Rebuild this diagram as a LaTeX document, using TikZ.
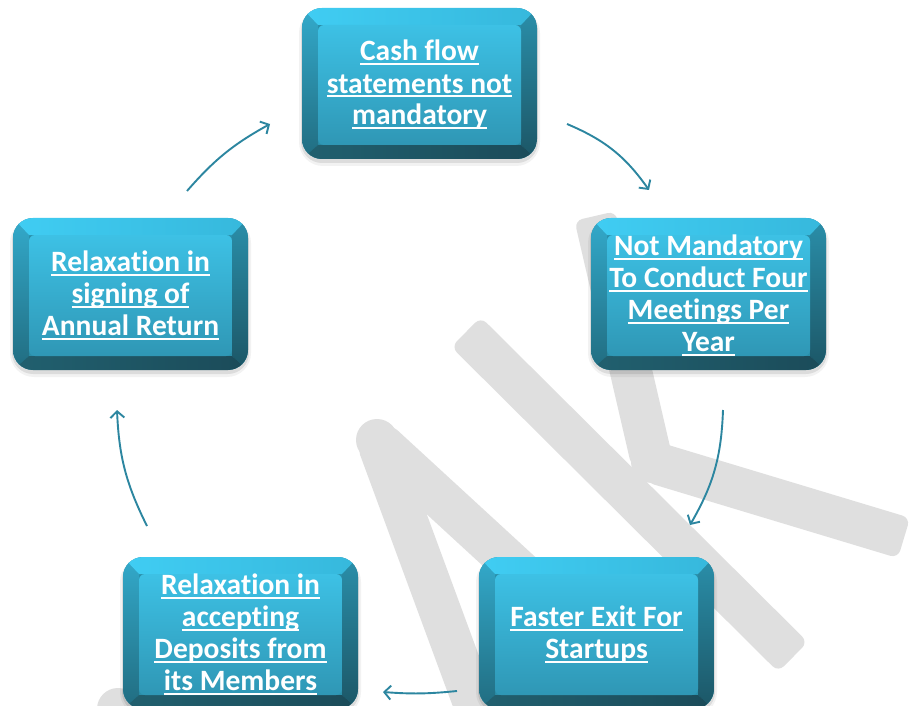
\documentclass[tikz,border=0pt]{standalone}
\usepackage{fontspec}
\setmainfont{Carlito}[Ligatures=NoCommon]
\usetikzlibrary{arrows.meta}
\definecolor{wm}{HTML}{DFDFDF}
\definecolor{arr}{HTML}{2C86A0}
\definecolor{bevtopL}{HTML}{40CDF3}
\definecolor{bevtopR}{HTML}{36B8DC}
\definecolor{bevleftT}{HTML}{33AACB}
\definecolor{bevleftB}{HTML}{216C80}
\definecolor{bevrightT}{HTML}{2A8FAA}
\definecolor{bevrightB}{HTML}{1C5666}
\definecolor{bevbotL}{HTML}{21606F}
\definecolor{bevbotR}{HTML}{1B4B59}
\definecolor{faceT}{HTML}{3DC1E5}
\definecolor{faceB}{HTML}{2F97B5}
\newcommand\ulline[1]{\setbox0=\hbox{#1}\rlap{\rule[-4.5pt]{\wd0}{2pt}}\box0\vrule height 23pt depth 7pt width 0pt}
\newcommand\bevbox[4]{%
  \pgfmathsetmacro\ax{#1+16}\pgfmathsetmacro\ay{#2+17}%
  \pgfmathsetmacro\bx{#3-16}\pgfmathsetmacro\by{#4-14}%
  \fill[black,opacity=.05,rounded corners=24] (#1-3,#2+1) rectangle (#3+3,#4+7);
  \fill[black,opacity=.09,rounded corners=21] (#1-1,#2+2) rectangle (#3+1,#4+4);
  \begin{scope}
    \clip[rounded corners=20] (#1,#2) rectangle (#3,#4);
    \fill[bevrightT] (#1,#2) rectangle (#3,#4);
    \shade[top color=bevleftT,bottom color=bevleftB] (#1,#2) -- (\ax,\ay) -- (\ax,\by) -- (#1,#4) -- cycle;
    \shade[top color=bevrightT,bottom color=bevrightB] (#3,#2) -- (\bx,\ay) -- (\bx,\by) -- (#3,#4) -- cycle;
    \shade[left color=bevtopL,right color=bevtopR] (#1,#2) -- (#3,#2) -- (\bx,\ay) -- (\ax,\ay) -- cycle;
    \shade[left color=bevbotL,right color=bevbotR] (#1,#4) -- (#3,#4) -- (\bx,\by) -- (\ax,\by) -- cycle;
  \end{scope}
  \shade[rounded corners=6,top color=faceT,bottom color=faceB] (\ax,\ay) rectangle (\bx,\by);
}
\newcommand\wmseg[4]{%
  \pgfmathsetmacro\wlen{veclen(#3-#1,#4-#2)}%
  \pgfmathsetmacro\wang{-atan2(#4-#2,#3-#1)}%
  \begin{scope}[shift={(#1,#2)},rotate=\wang]
    \fill[wm,rounded corners=8] (0,-21) rectangle (\wlen,21);
  \end{scope}}
\tikzset{
  boxtext/.style={text=white,align=center,inner sep=0pt,
    font=\bfseries\fontsize{29.5}{32}\selectfont},
  conn/.style={arr,line width=1.9pt,-{Straight Barb[length=6.5pt,width=14pt]}}
}
\begin{document}
\begin{tikzpicture}[x=1pt,y=-1pt]
\useasboundingbox (0,0) rectangle (911,706);
\fill[white] (0,0) rectangle (911,706);
% watermark
\wmseg{377}{440}{495}{760}
\wmseg{377}{440}{600}{645}
\fill[wm] (377,440) circle (21);
\wmseg{466}{332}{793}{657}
\wmseg{595}{216}{652}{462}
\wmseg{652}{462}{904}{538}
\fill[wm] (652,462) circle (21);
\fill[wm] (118,709) circle (21);
% connectors
\coordinate (a1s) at (567,124); \coordinate (a1e) at (649,190);
\coordinate (a2s) at (723,410); \coordinate (a2e) at (690,525);
\coordinate (a3s) at (457,691); \coordinate (a3e) at (383,692);
\coordinate (a4s) at (147,526); \coordinate (a4e) at (117,410);
\coordinate (a5s) at (187,191); \coordinate (a5e) at (270,124);
\draw[conn] (a1s) to[bend left=16] (a1e);
\draw[conn] (a2s) to[bend left=14] (a2e);
\draw[conn] (a3s) to[bend left=5] (a3e);
\draw[conn] (a4s) to[bend left=12] (a4e);
\draw[conn] (a5s) to[bend left=10] (a5e);
% boxes
\bevbox{302}{8}{537}{159}
\node[boxtext] (cash) at (419.5,85) {\ulline{Cash flow}\\\ulline{statements not}\\\ulline{mandatory}};
\bevbox{591}{218}{826}{370}
\node[boxtext] (meet) at (708.5,295.5) {\ulline{Not Mandatory}\\\ulline{To Conduct Four}\\\ulline{Meetings Per}\\\ulline{Year}};
\bevbox{479}{557}{714}{709}
\node[boxtext] (exit) at (596.5,634.5) {\ulline{Faster Exit For}\\\ulline{Startups}};
\bevbox{123}{557}{358}{709}
\node[boxtext] (depo) at (240.5,634.5) {\ulline{Relaxation in}\\\ulline{accepting}\\\ulline{Deposits from}\\\ulline{its Members}};
\bevbox{13}{218}{248}{370}
\node[boxtext] (sign) at (130.5,295.5) {\ulline{Relaxation in}\\\ulline{signing of}\\\ulline{Annual Return}};
\end{tikzpicture}
\end{document}
